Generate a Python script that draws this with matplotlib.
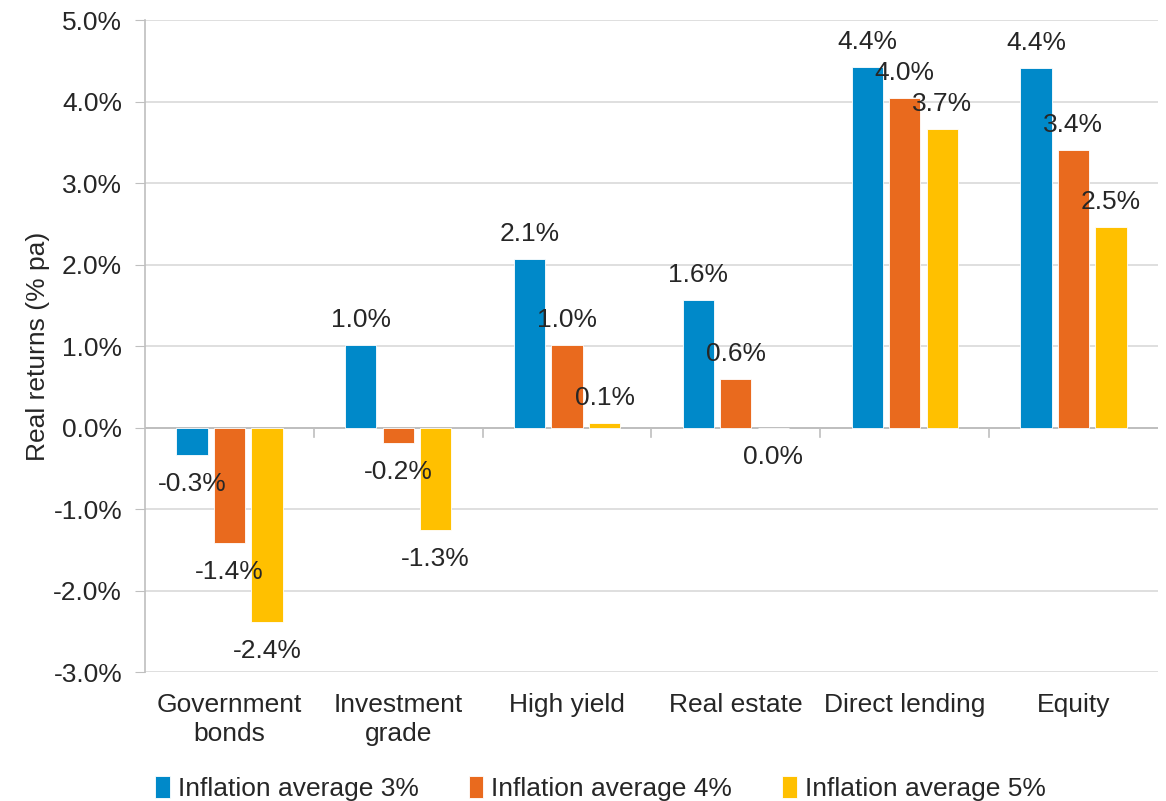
import numpy as np
import matplotlib
matplotlib.use("Agg")
import matplotlib.pyplot as plt

# Real returns by asset class under three inflation scenarios
categories = ["Government\nbonds", "Investment\ngrade", "High yield",
              "Real estate", "Direct lending", "Equity"]
series_names = ["Inflation average 3%", "Inflation average 4%", "Inflation average 5%"]
infl_3 = [-0.34, 1.01, 2.07, 1.56, 4.42, 4.41]
infl_4 = [-1.42, -0.19, 1.01, 0.59, 4.04, 3.40]
infl_5 = [-2.38, -1.26, 0.06, -0.004, 3.66, 2.46]
y_ticks = [-3, -2, -1, 0, 1, 2, 3, 4, 5]

colors = ["#0089c9", "#e96a1e", "#ffc000"]
text_color = "#262626"
grid_color = "#d9d9d9"
axis_color = "#bfbfbf"

plt.rcParams["font.family"] = ["Liberation Sans", "DejaVu Sans"]
FS = 19

fig = plt.figure(figsize=(11.66, 8.01), dpi=100)
ax = fig.add_axes([0.1244, 0.161, 0.8686, 0.814])

x = np.arange(len(categories))
width = 0.185
step = 0.222
all_series = [infl_3, infl_4, infl_5]

for i, (vals, name, col) in enumerate(zip(all_series, series_names, colors)):
    pos = x + (i - 1) * step
    ax.bar(pos, vals, width, color=col, label=name, edgecolor="white",
           linewidth=0.6, zorder=3)
    for px, v in zip(pos, vals):
        if v >= 0:
            off = 18
        else:
            off = -21
        ax.annotate(f"{v:.1f}%".replace("-0.0%", "0.0%"), (px, v),
                    xytext=(0, off), textcoords="offset points",
                    ha="center", va="center", fontsize=FS, color=text_color,
                    zorder=4)

ax.set_xlim(-0.5, len(categories) - 0.5)
ax.set_ylim(-3, 5)
ax.set_yticks(y_ticks)
ax.set_yticklabels([f"{t:.1f}%" for t in y_ticks], fontsize=FS, color=text_color)
ax.set_xticks(x)
ax.set_xticklabels(categories, fontsize=FS, color=text_color, linespacing=1.25)
ax.tick_params(axis="x", length=0, pad=15)
ax.tick_params(axis="y", length=7, color=axis_color, pad=9.5)

ax.set_ylabel("Real returns (% pa)", fontsize=FS, color=text_color, labelpad=2)

ax.grid(axis="y", color=grid_color, linewidth=1.2, zorder=0)
for side in ["top", "right", "bottom"]:
    ax.spines[side].set_visible(False)
ax.spines["left"].set_color(axis_color)
ax.spines["left"].set_linewidth(1.2)

# zero line with category separator ticks
ax.axhline(0, color=axis_color, linewidth=1.4, zorder=2)
for b in np.arange(0.5, len(categories) - 0.5, 1.0):
    ax.plot([b, b], [0, -0.12], color=axis_color, linewidth=1.2, zorder=2)

leg = fig.legend(loc="center", bbox_to_anchor=(0.515, 0.016), ncol=3,
                 frameon=False, fontsize=FS, handlelength=0.55,
                 handleheight=0.9, handletextpad=0.3, columnspacing=1.9,
                 labelcolor=text_color)

fig.savefig("out.png", dpi=100)
